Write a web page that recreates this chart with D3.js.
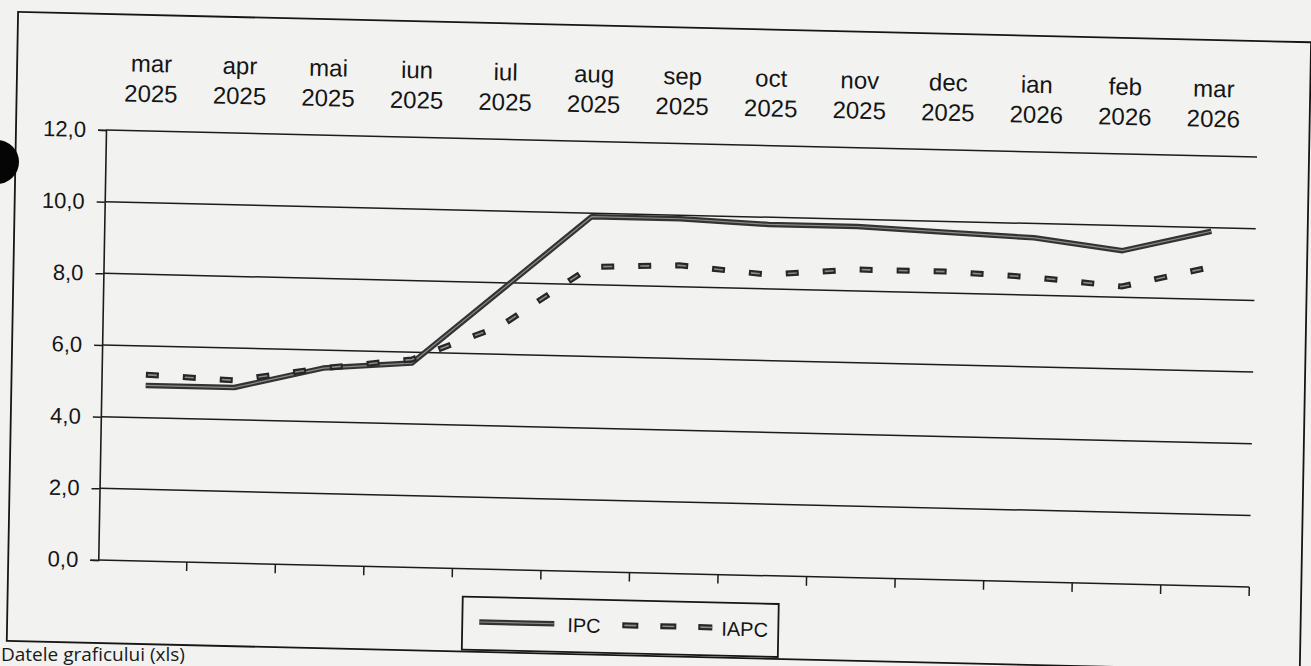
<!DOCTYPE html>
<html>
<head>
<meta charset="utf-8">
<script src="https://cdn.jsdelivr.net/npm/d3@7/dist/d3.min.js"></script>
<style>
  html, body { margin: 0; padding: 0; background: #f2f2f0; }
  svg { display: block; }
  text { font-family: "Liberation Sans", Arial, sans-serif; fill: #151515; }
  text.foot { font-family: "Open Sans", "Noto Sans", sans-serif; fill: #1a1a1a; }
</style>
</head>
<body>
<svg id="chart" width="1311" height="666"></svg>
<script>
// ---- data ----
const categories = ["mar 2025", "apr 2025", "mai 2025", "iun 2025", "iul 2025", "aug 2025",
                    "sep 2025", "oct 2025", "nov 2025", "dec 2025", "ian 2026", "feb 2026", "mar 2026"];
const ipc  = [4.9, 4.9, 5.5, 5.7, 7.8, 9.9, 9.9, 9.8, 9.8, 9.7, 9.6, 9.3, 9.9];
const iapc = [5.2, 5.1, 5.5, 5.8, 6.8, 8.5, 8.6, 8.4, 8.6, 8.6, 8.5, 8.3, 8.9];
const yTicks = [0, 2, 4, 6, 8, 10, 12];
const seriesNames = ["IPC", "IAPC"];
const footnote = "Datele graficului (xls)";

// ---- layout ----
const svg = d3.select("#chart");
const W = 1311, H = 666;
const plot = { left: 106, right: 1257, top: 130, bottom: 560 };
const skewB = 0.0235, skewC = -0.018; // scan tilt

svg.append("rect").attr("width", W).attr("height", H).attr("fill", "#f2f2f0");

const g = svg.append("g")
  .attr("transform", `matrix(1,${skewB},${skewC},1,${-skewC * plot.top},${-skewB * plot.left})`);

const x = d3.scaleBand().domain(categories).range([plot.left, plot.right]).padding(0);
const y = d3.scaleLinear().domain([0, 12]).range([plot.bottom, plot.top]);
const fmt = v => d3.format(".1f")(v).replace(".", ",");

// outer chart frame
g.append("rect").attr("x", 16).attr("y", 14).attr("width", 1293).attr("height", 629)
  .attr("fill", "none").attr("stroke", "#161616").attr("stroke-width", 1.8);

// gridlines
g.append("g").selectAll("line").data(yTicks).join("line")
  .attr("x1", plot.left).attr("x2", plot.right)
  .attr("y1", d => y(d)).attr("y2", d => y(d))
  .attr("stroke", "#1c1c1c").attr("stroke-width", 1.5);

// y axis
const yAxis = g.append("g").attr("transform", `translate(${plot.left},0)`)
  .call(d3.axisLeft(y).tickValues(yTicks).tickFormat(fmt).tickSize(8).tickPadding(12));
yAxis.select(".domain").attr("stroke", "#1c1c1c").attr("stroke-width", 1.6);
yAxis.selectAll(".tick line").attr("stroke", "#1c1c1c").attr("stroke-width", 1.5);
yAxis.selectAll(".tick text").attr("font-size", 22).attr("fill", "#151515");

// x axis ticks at category boundaries
g.append("g").selectAll("line").data(categories).join("line")
  .attr("x1", d => x(d) + x.bandwidth()).attr("x2", d => x(d) + x.bandwidth())
  .attr("y1", y(0)).attr("y2", y(0) + 9)
  .attr("stroke", "#1c1c1c").attr("stroke-width", 1.5);

// category labels on top
const lab = g.append("g").selectAll("text").data(categories).join("text")
  .attr("text-anchor", "middle").attr("font-size", 24);
lab.each(function(d) {
  const parts = d.split(" ");
  const t = d3.select(this);
  const cx = x(d) + x.bandwidth() / 2;
  t.append("tspan").attr("x", cx).attr("y", 71).text(parts[0]);
  t.append("tspan").attr("x", cx).attr("y", 101).text(parts[1]);
});

// lines
const line = d3.line()
  .x((d, i) => x(categories[i]) + x.bandwidth() / 2)
  .y(d => y(d));

// IPC: thick dark line with lighter core
g.append("path").datum(ipc).attr("d", line)
  .attr("fill", "none").attr("stroke", "#333333").attr("stroke-width", 5.5)
  .attr("stroke-linejoin", "round");
g.append("path").datum(ipc).attr("d", line)
  .attr("fill", "none").attr("stroke", "#8c8c8c").attr("stroke-width", 1.2)
  .attr("stroke-linejoin", "round");

// IAPC: dashed
g.append("path").datum(iapc).attr("d", line)
  .attr("fill", "none").attr("stroke", "#262626").attr("stroke-width", 6)
  .attr("stroke-dasharray", "13,24");
g.append("path").datum(iapc).attr("d", line)
  .attr("fill", "none").attr("stroke", "#8a8a8a").attr("stroke-width", 1.6)
  .attr("stroke-dasharray", "9,28").attr("stroke-dashoffset", -2);

// legend
const lg = g.append("g");
lg.append("rect").attr("x", 471).attr("y", 588).attr("width", 316).attr("height", 53)
  .attr("fill", "#f2f2f0").attr("stroke", "#161616").attr("stroke-width", 1.8);
const ly = 613;
lg.append("line").attr("x1", 488).attr("x2", 563).attr("y1", ly).attr("y2", ly)
  .attr("stroke", "#333333").attr("stroke-width", 5.5);
lg.append("line").attr("x1", 488).attr("x2", 563).attr("y1", ly).attr("y2", ly)
  .attr("stroke", "#8c8c8c").attr("stroke-width", 1.2);
lg.append("text").attr("x", 576).attr("y", ly + 8).attr("font-size", 20).text(seriesNames[0]);
lg.append("line").attr("x1", 631).attr("x2", 721).attr("y1", ly).attr("y2", ly)
  .attr("stroke", "#262626").attr("stroke-width", 6).attr("stroke-dasharray", "16,22");
lg.append("line").attr("x1", 631).attr("x2", 721).attr("y1", ly).attr("y2", ly)
  .attr("stroke", "#8a8a8a").attr("stroke-width", 1.6).attr("stroke-dasharray", "12,26")
  .attr("stroke-dashoffset", -2);
lg.append("text").attr("x", 730).attr("y", ly + 8).attr("font-size", 20).text(seriesNames[1]);

// punch hole of the scanned page
svg.append("circle").attr("cx", -3).attr("cy", 162).attr("r", 22).attr("fill", "#050505");

// footnote below the frame
svg.append("text").attr("class", "foot").attr("x", 1).attr("y", 661)
  .attr("font-size", 19).text(footnote);
</script>
</body>
</html>
